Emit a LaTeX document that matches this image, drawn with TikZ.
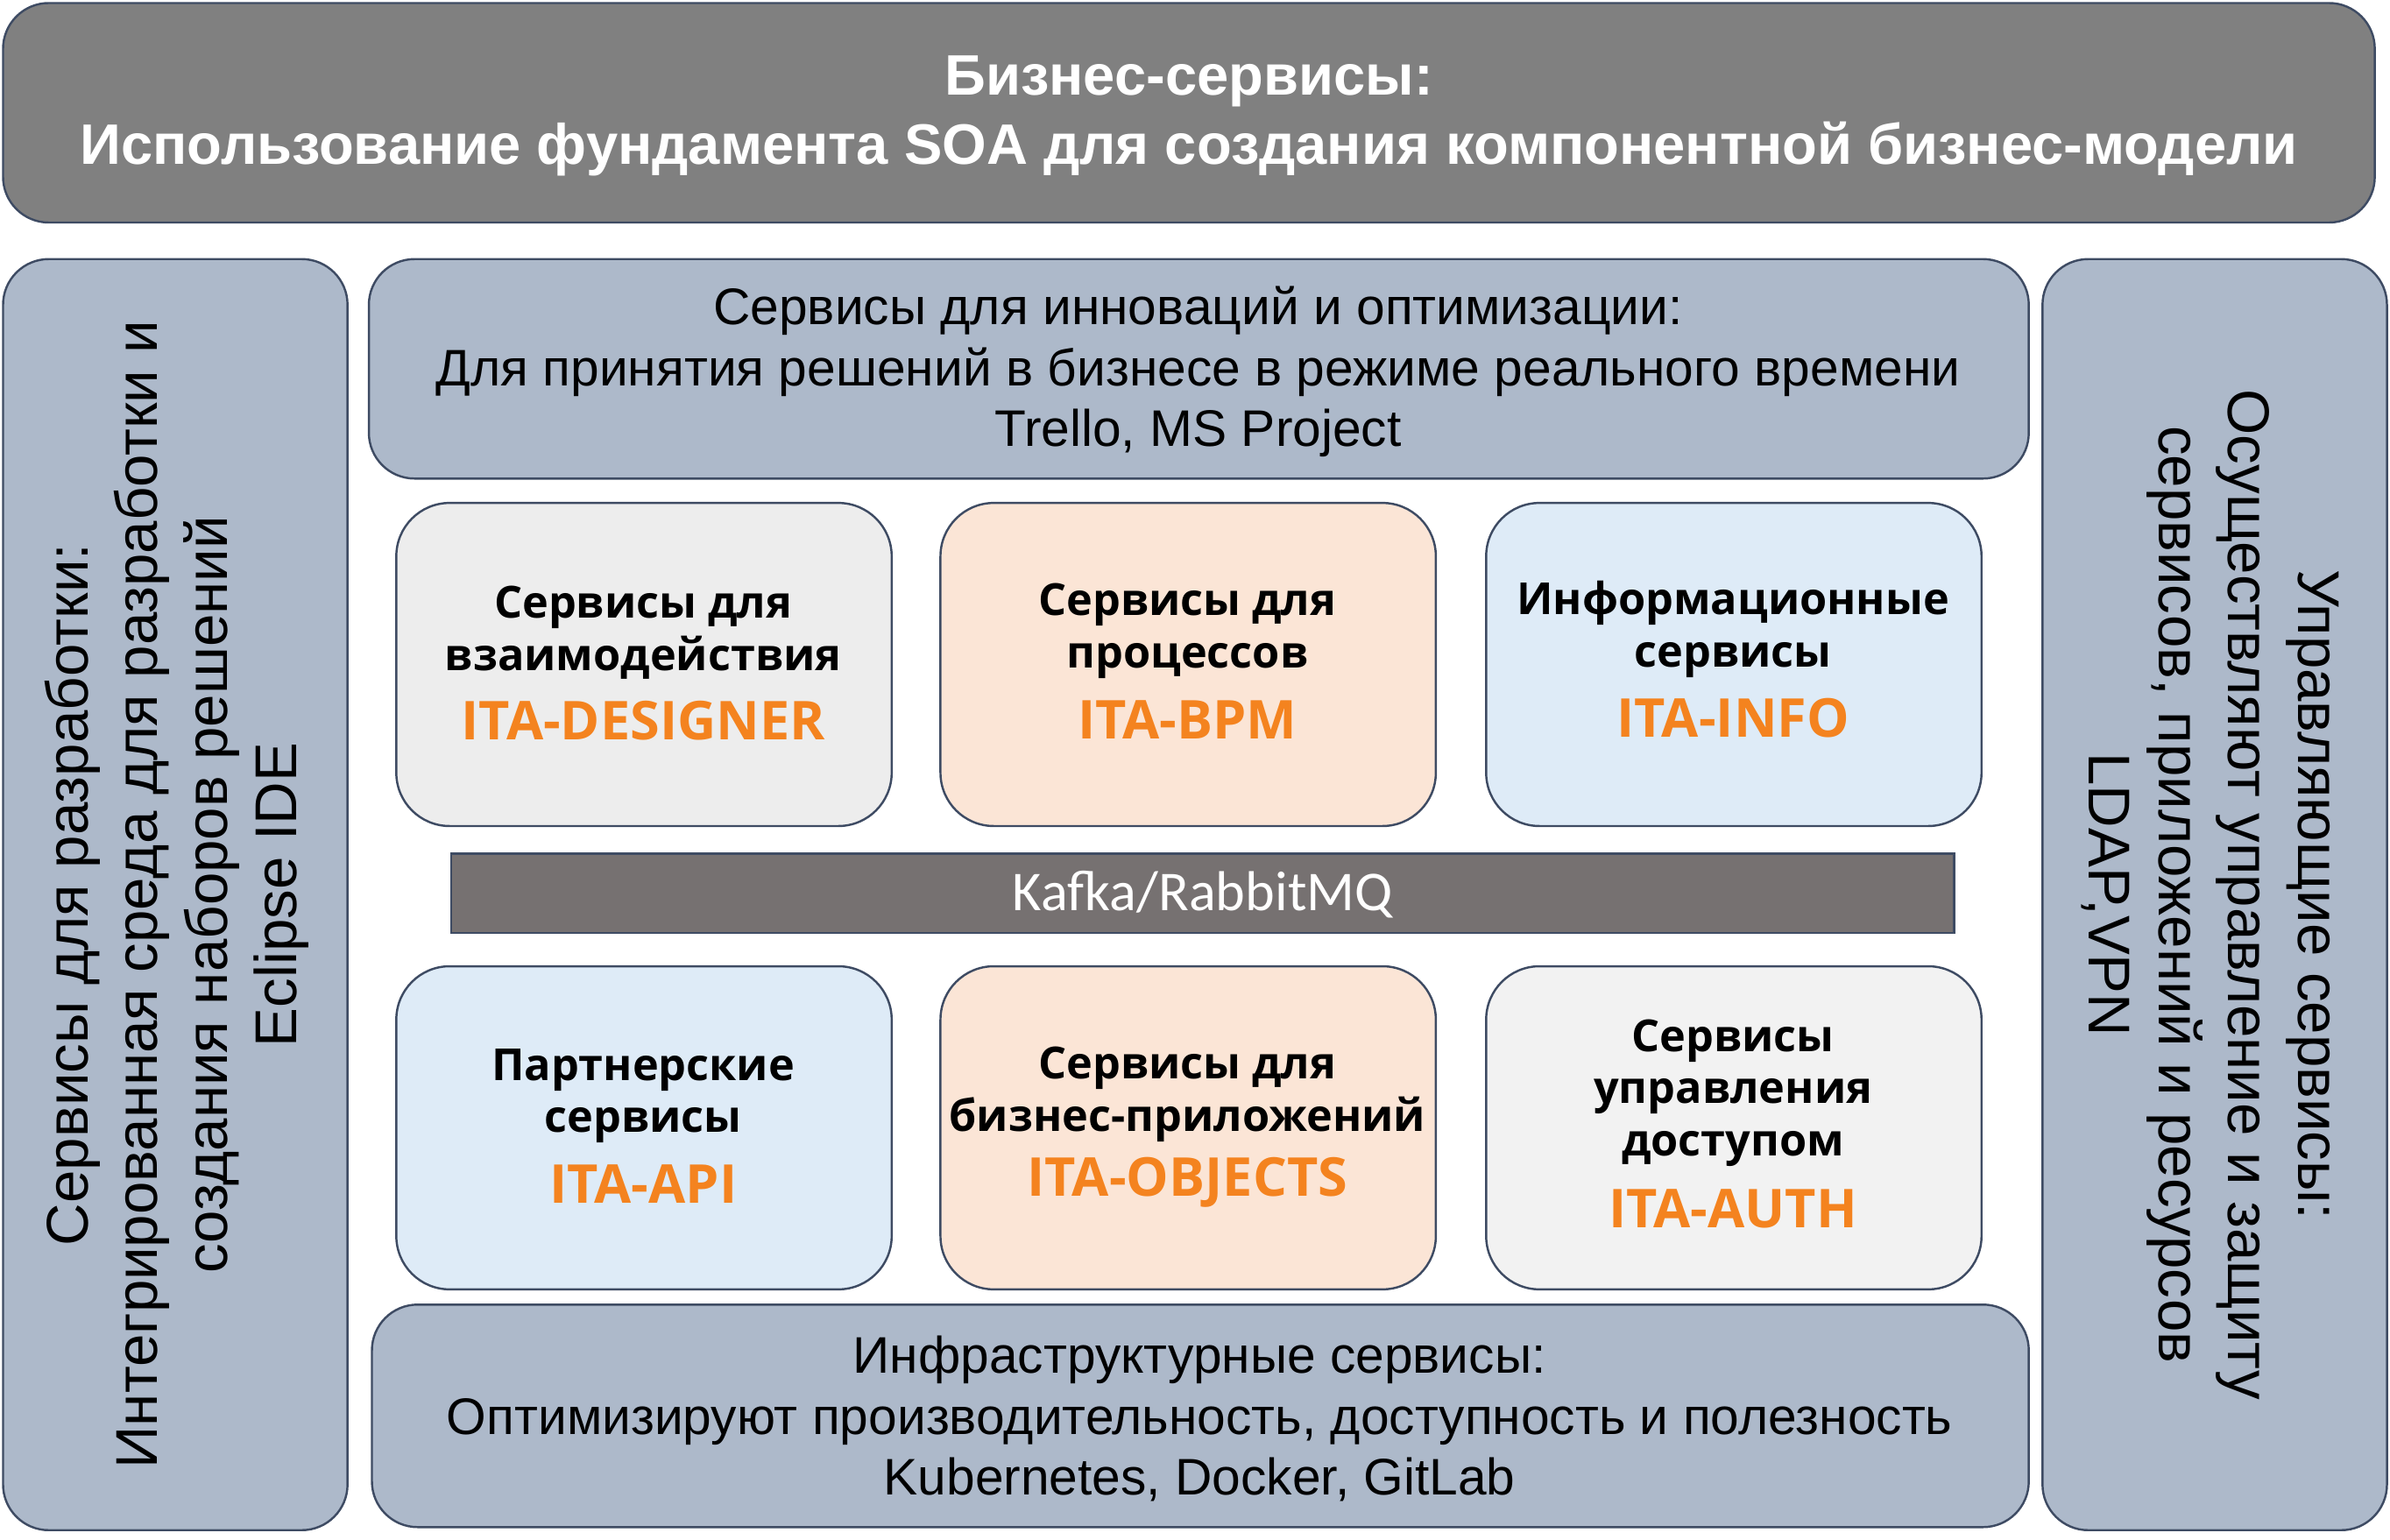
\documentclass[tikz,border=0pt]{standalone}
\usepackage{fontspec}
\setmainfont{Liberation Sans}
\newfontfamily\osans{Open Sans}
\newfontfamily\carl{Carlito}
\definecolor{bordc}{HTML}{3E4B63}
\definecolor{titlef}{HTML}{808080}
\definecolor{sidef}{HTML}{ADB9CA}
\definecolor{gryf}{HTML}{EDEDED}
\definecolor{gry2f}{HTML}{F2F2F2}
\definecolor{peachf}{HTML}{FBE5D6}
\definecolor{bluef}{HTML}{DEEBF7}
\definecolor{kafkaf}{HTML}{767171}
\definecolor{orangec}{HTML}{F4831F}
\begin{document}
\begin{tikzpicture}[x=0.02cm,y=-0.02cm,
 panel/.style={draw=bordc,line width=0.8pt,rounded corners=0.6cm},
 inner/.style={panel,rounded corners=0.7cm},
 ttl/.style={font=\fontsize{16.5}{19.5}\selectfont\osans\bfseries,align=center},
 ita/.style={font=\fontsize{20}{24}\selectfont\osans\bfseries,text=orangec}]
\useasboundingbox (0,0) rectangle (1568,1010);
% top
\draw[panel,fill=titlef] (2,2) rectangle (1558,146);
\node[text=white,font=\fontsize{21.3}{26}\selectfont\bfseries,align=center] (top) at (780,76) {Бизнес-сервисы:\\Использование фундамента SOA для создания компонентной бизнес-модели};
% sides
\draw[panel,fill=sidef] (2,170) rectangle (228,1004);
\node[rotate=90,font=\fontsize{22}{26}\selectfont,align=center] (left) at (116,587) {Сервисы для разработки:\\Интегрированная среда для разработки и\\создания наборов решений\\Eclipse IDE};
\draw[panel,fill=sidef] (1340,170) rectangle (1566,1004);
\node[rotate=-90,font=\fontsize{22}{26}\selectfont,align=center] (right) at (1450,587) {Управляющие сервисы:\\Осуществляют управление и защиту\\сервисов, приложений и ресурсов\\LDAP,VPN};
% top middle
\draw[panel,fill=sidef] (242,170) rectangle (1331,314);
\node[font=\fontsize{19.2}{22.7}\selectfont,align=center] (innov) at (786,244) {Сервисы для инноваций и оптимизации:\\Для принятия решений в бизнесе в режиме реального времени\\Trello, MS Project};
% bottom
\draw[panel,fill=sidef] (244,856) rectangle (1331,1002);
\node[font=\fontsize{19.2}{22.7}\selectfont,align=center] (infra) at (787,931) {Инфраструктурные сервисы:\\Оптимизируют производительность, доступность и полезность\\Kubernetes, Docker, GitLab};
% inner row1
\draw[inner,fill=gryf] (260,330) rectangle (585,542);
\node[ttl] (d1) at (422,415) {Сервисы для\\взаимодействия};
\node[ita] (d2) at (422,473) {ITA-DESIGNER};
\draw[inner,fill=peachf] (617,330) rectangle (942,542);
\node[ttl] (b1) at (779,414) {Сервисы для\\процессов};
\node[ita] (b2) at (779,472) {ITA-BPM};
\draw[inner,fill=bluef] (975,330) rectangle (1300,542);
\node[ttl] (i1) at (1137,413) {Информационные\\сервисы};
\node[ita] (i2) at (1137,471) {ITA-INFO};
% kafka
\draw[draw=bordc,line width=0.8pt,fill=kafkaf] (296,560) rectangle (1282,612);
\node[text=white,font=\fontsize{21}{24}\selectfont\carl] (kafka) at (789,587) {Kafka/RabbitMQ};
% inner row2
\draw[inner,fill=bluef] (260,634) rectangle (585,846);
\node[ttl] (a1) at (422,719) {Партнерские\\сервисы};
\node[ita] (a2) at (422,777) {ITA-API};
\draw[inner,fill=peachf] (617,634) rectangle (942,846);
\node[ttl] (o1) at (779,718) {Сервисы для\\бизнес-приложений};
\node[ita] (o2) at (779,776) {ITA-OBJECTS};
\draw[inner,fill=gry2f] (975,634) rectangle (1300,846);
\node[ttl] (u1) at (1137,717) {Сервисы\\управления\\доступом};
\node[ita] (u2) at (1137,793) {ITA-AUTH};
\end{tikzpicture}
\end{document}
